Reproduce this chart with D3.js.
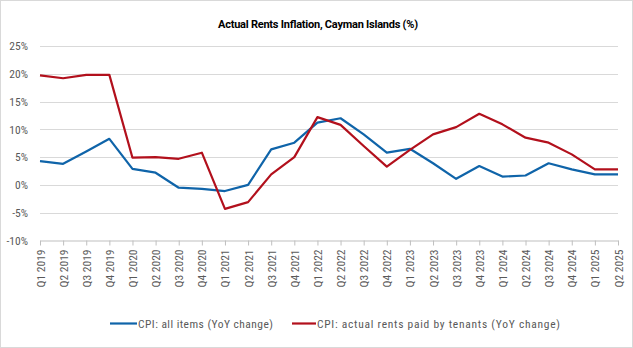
<!DOCTYPE html>
<html>
<head>
<meta charset="utf-8">
<script src="https://cdn.jsdelivr.net/npm/d3@7"></script>
<style>
  html, body { margin: 0; padding: 0; background: #fff; }
  svg { display: block; }
  .lbl { font-family: "Roboto Condensed", "Liberation Sans Narrow", Roboto, sans-serif; font-stretch: condensed; }
</style>
</head>
<body>
<svg id="chart" width="633" height="348"></svg>
<script>
// Quarterly categories
const quarters = [
  "Q1 2019","Q2 2019","Q3 2019","Q4 2019",
  "Q1 2020","Q2 2020","Q3 2020","Q4 2020",
  "Q1 2021","Q2 2021","Q3 2021","Q4 2021",
  "Q1 2022","Q2 2022","Q3 2022","Q4 2022",
  "Q1 2023","Q2 2023","Q3 2023","Q4 2023",
  "Q1 2024","Q2 2024","Q3 2024","Q4 2024",
  "Q1 2025","Q2 2025"
];

// CPI: all items, YoY change (%)
const cpiAll = [
  4.3, 3.8, 6.0, 8.3,
  2.9, 2.2, -0.5, -0.7,
  -1.1, 0.0, 6.4, 7.6,
  11.2, 12.0, 9.1, 5.8,
  6.5, 3.9, 1.1, 3.4,
  1.5, 1.7, 3.9, 2.8,
  1.9, 1.9
];

// CPI: actual rents paid by tenants, YoY change (%)
const cpiRents = [
  19.7, 19.2, 19.8, 19.8,
  4.9, 5.0, 4.7, 5.8,
  -4.3, -3.1, 1.9, 5.0,
  12.2, 10.8, 7.0, 3.3,
  6.3, 9.1, 10.4, 12.8,
  10.9, 8.5, 7.6, 5.5,
  2.8, 2.8
];

const yTicks = [-10, -5, 0, 5, 10, 15, 20, 25];

const seriesNames = [
  "CPI: all items (YoY change)",
  "CPI: actual rents paid by tenants (YoY change)"
];
const seriesColors = ["#0F64A9", "#B2101C"];

const svg = d3.select("#chart");
const W = 633, H = 348;

// outer frame
svg.append("rect")
  .attr("x", 0.5).attr("y", 0.5)
  .attr("width", W - 1).attr("height", H - 1)
  .attr("fill", "#fff").attr("stroke", "#d9d9d9");

const plotLeft = 40, plotRight = 618, plotTop = 46, plotBottom = 240.5;

const x = d3.scalePoint().domain(quarters).range([plotLeft, plotRight]);
const y = d3.scaleLinear().domain([-10, 25]).range([plotBottom, plotTop]);

// title
svg.append("text")
  .attr("x", 218).attr("y", 28)
  .attr("font-family", "Roboto, sans-serif")
  .attr("font-weight", "bold")
  .attr("font-size", 11)
  .attr("textLength", 200)
  .attr("lengthAdjust", "spacing")
  .attr("fill", "#000")
  .text("Actual Rents Inflation, Cayman Islands (%)");

// horizontal gridlines
svg.append("g")
  .selectAll("line")
  .data(yTicks.filter(d => d !== -10))
  .join("line")
  .attr("x1", plotLeft).attr("x2", plotRight)
  .attr("y1", d => Math.round(y(d)) + 0.5)
  .attr("y2", d => Math.round(y(d)) + 0.5)
  .attr("stroke", "#d9d9d9").attr("stroke-width", 1);

// y axis labels
const yAxis = d3.axisLeft(y).tickValues(yTicks).tickSize(0).tickPadding(0)
  .tickFormat(d => d + "%");
const gy = svg.append("g").attr("transform", `translate(${plotLeft - 12},0)`).call(yAxis);
gy.select(".domain").remove();
gy.selectAll("text")
  .attr("class", "lbl")
  .attr("font-size", 11.5)
  .attr("fill", "#595959");

// x axis at the bottom of the range
const xAxis = d3.axisBottom(x).tickSize(5).tickPadding(5).tickSizeOuter(0);
const gx = svg.append("g").attr("transform", `translate(0,${plotBottom})`).call(xAxis);
gx.select(".domain").attr("stroke", "#bfbfbf");
gx.selectAll(".tick line").attr("stroke", "#bfbfbf");
gx.selectAll("text")
  .attr("class", "lbl")
  .attr("font-size", 11.5)
  .attr("fill", "#595959")
  .attr("text-anchor", "end")
  .attr("dy", "0.35em")
  .attr("transform", "translate(0,4) rotate(-90)")
  .attr("x", -5).attr("y", 0);

// lines
const line = d3.line().x((d, i) => x(quarters[i])).y(d => y(d));
[cpiAll, cpiRents].forEach((vals, k) => {
  svg.append("path")
    .datum(vals)
    .attr("d", line)
    .attr("fill", "none")
    .attr("stroke", seriesColors[k])
    .attr("stroke-width", 2.2)
    .attr("stroke-linejoin", "round");
});

// legend
const legendItems = [
  { x: 110, w: 27, tw: 135 },
  { x: 292, w: 24, tw: 243 }
];
legendItems.forEach((it, k) => {
  const g = svg.append("g");
  g.append("line")
    .attr("x1", it.x).attr("x2", it.x + it.w)
    .attr("y1", 323.5).attr("y2", 323.5)
    .attr("stroke", seriesColors[k]).attr("stroke-width", 2.2);
  g.append("text")
    .attr("class", "lbl")
    .attr("x", it.x + it.w + 1).attr("y", 327.5)
    .attr("font-size", 11.5)
    .attr("textLength", it.tw)
    .attr("lengthAdjust", "spacing")
    .attr("fill", "#595959")
    .text(seriesNames[k]);
});
</script>
</body>
</html>
